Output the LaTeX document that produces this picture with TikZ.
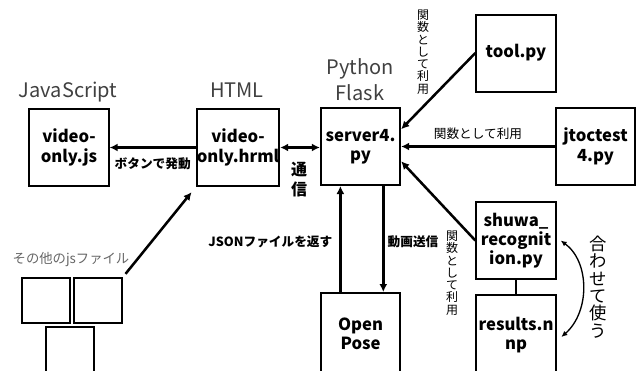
\documentclass[tikz,border=0pt]{standalone}
\usepackage{fontspec}
\setmainfont{Noto Sans CJK JP}
\usetikzlibrary{arrows.meta}

\begin{document}
\begin{tikzpicture}[x=0.75pt,y=0.75pt,yscale=-1,xscale=1,
  filebox/.style={draw,line width=1.5pt,minimum width=59.5pt,minimum height=57.75pt,inner sep=0pt,align=center,font=\fontsize{12.5}{14.5}\selectfont\bfseries},
  smallbox/.style={draw,line width=1.5pt,minimum width=36pt,minimum height=33.75pt,inner sep=0pt},
  layer/.style={text=black!75,font=\fontsize{15}{19}\selectfont},
  note/.style={font=\fontsize{9.5}{11}\selectfont\bfseries},
  tate/.style={align=center,font=\fontsize{9}{9.2}\selectfont\bfseries},
  arr/.style={line width=1.9pt,-{Latex[length=6pt,width=6pt]}}]
\clip (0,0) rectangle (643,371);

%Shape: Rectangle [id:js] 
\node [filebox] (js) at (69,147.5) {video-\\only.js};
%Shape: Rectangle [id:html] 
\node [filebox] (html) at (238,147.5) {video-\\only.hrml};
%Shape: Rectangle [id:server] 
\node [filebox] (server) at (360.5,146.5) {server4.\\py};
%Shape: Rectangle [id:tool] 
\node [filebox] (tool) at (516,53) {tool.py};
%Shape: Rectangle [id:jtoc] 
\node [filebox] (jtoc) at (595.5,146.5) {jtoctest\\4.py};
%Shape: Rectangle [id:shuwa] 
\node [filebox] (shuwa) at (516,240.5) {shuwa\_\\recognit\\ion.py};
%Shape: Rectangle [id:results] 
\node [filebox,minimum height=60pt] (results) at (516,335) {results.n\\np};
%Shape: Rectangle [id:openpose] 
\node [filebox,minimum height=61.5pt] (openpose) at (360.5,334) {Open\\Pose};
%Shape: Rectangle [id:small] 
\node [smallbox] (jsa) at (46,300.5) {};
\node [smallbox] (jsb) at (98,300.5) {};
\node [smallbox] (jsc) at (70,349.5) {};

% Text Node
\node [layer] (jslayer) at (68,92) {JavaScript};
% Text Node
\node [layer] (htmllayer) at (237,90) {HTML};
% Text Node
\node [layer,align=center,font=\fontsize{15}{19.5}\selectfont] (pylayer) at (360,80) {Python\\Flask};
% Text Node
\node [text=black!60,font=\fontsize{10}{12}\selectfont] (otherjs) at (71,260) {その他のjsファイル};

%Straight Lines [id:html-js] 
\draw [arr] (html) -- (js) node [note,pos=0.5,below=3pt] (btn) {ボタンで発動};
%Straight Lines [id:html-server] 
\draw [line width=1.9pt,{Latex[length=6pt,width=6pt]}-{Latex[length=6pt,width=6pt]}] (html.east) -- (html.east -| server.west);
\node [tate,font=\fontsize{12}{15}\selectfont\bfseries] (tsushin) at (299,180) {通\\信};
%Straight Lines [id:tool-server] 
\draw [arr] (tool.west) -- (server.23);
\node [tate,font=\fontsize{9}{9.2}\selectfont] (kansu1) at (423,52) {関\\数\\と\\し\\て\\利\\用};
%Straight Lines [id:jtoc-server] 
\draw [arr] (jtoc) -- (server) node [note,pos=0.5,above=1pt,font=\fontsize{9.5}{11}\selectfont] (kansu2) {関数として利用};
%Straight Lines [id:shuwa-server] 
\draw [arr] (shuwa.west) -- (server.-20);
\node [tate,font=\fontsize{9}{9.2}\selectfont] (kansu3) at (452,273) {関\\数\\と\\し\\て\\利\\用};
%Straight Lines [id:server-openpose] 
\draw [arr] (server.-60) -- (server.-60 |- openpose.north);
\node [note] (douga) at (413,242) {動画送信};
%Straight Lines [id:openpose-server] 
\draw [arr] (server.-117 |- openpose.north) -- (server.-117);
\node [note,anchor=east] (json) at (337,242) {JSONファイルを返す};
%Straight Lines [id:shuwa-results] 
\draw [line width=1.5pt] (shuwa) -- (results);
%Curve Lines [id:awasete] 
\draw [line width=1pt,{Latex[length=4.5pt,width=4pt]}-{Latex[length=4.5pt,width=4pt]}] ([xshift=3pt]shuwa.east) .. controls (590,262) and (590,312) .. ([xshift=3.5pt,yshift=1.5pt]results.east);
\node [tate,font=\fontsize{13}{13}\selectfont] (awase) at (598,287) {合\\わ\\せ\\て\\使\\う};
%Straight Lines [id:smalls-html] 
\draw [arr,shorten <=3pt,shorten >=5pt] (jsb.north east) -- (html.south west);

\end{tikzpicture}
\end{document}
